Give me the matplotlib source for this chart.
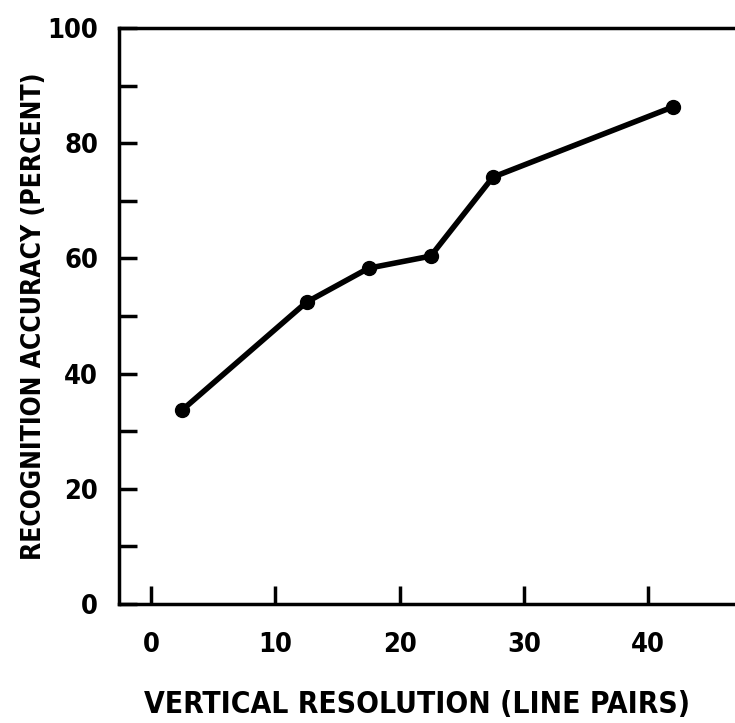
import numpy as np
import matplotlib.pyplot as plt

# vertical resolution (line pairs) vs recognition accuracy (percent)
resolution = [2.5, 12.5, 17.5, 22.5, 27.5, 42]
accuracy = [33.7, 52.4, 58.3, 60.4, 74.1, 86.3]

xticks = [0, 10, 20, 30, 40]
yticks = np.arange(0, 101, 10)
ylabels = ["0", "", "20", "", "40", "", "60", "", "80", "", "100"]

plt.rcParams['font.family'] = ['DejaVu Sans']
plt.rcParams['font.stretch'] = 'condensed'
plt.rcParams['font.weight'] = 'bold'

fig = plt.figure(figsize=(7.35, 7.23), dpi=100)
ax = fig.add_axes([119 / 735, 1 - 604 / 723, 1 - 119 / 735, (604 - 28) / 723])

ax.plot(resolution, accuracy, color="black", linewidth=4, marker="o",
        markersize=10, solid_capstyle="round")

ax.set_xlim(-2.6, 47)
ax.set_ylim(0, 100)
ax.set_xticks(xticks)
ax.set_yticks(yticks)
ax.set_yticklabels(ylabels)

for s in ["left", "bottom", "top"]:
    ax.spines[s].set_linewidth(2.5)
ax.spines["right"].set_visible(False)

ax.tick_params(axis="both", direction="in", length=13, width=2.5,
               labelsize=19.5)
ax.tick_params(axis="x", pad=20)
ax.tick_params(axis="y", pad=15)

ax.set_xlabel("VERTICAL RESOLUTION (LINE PAIRS)", fontsize=21.5,
              fontweight="bold")
ax.xaxis.set_label_coords(0.484, -0.149)
ax.set_ylabel("RECOGNITION ACCURACY (PERCENT)", fontsize=19,
              fontweight="bold", labelpad=0)

fig.savefig("out.png")
